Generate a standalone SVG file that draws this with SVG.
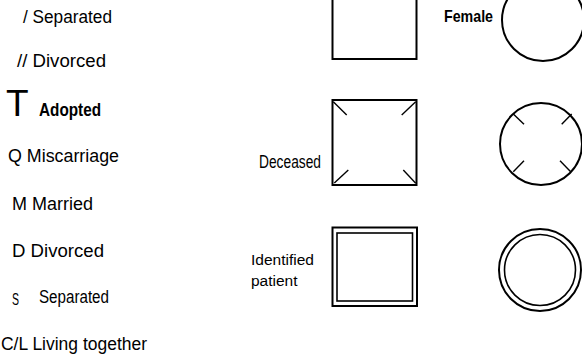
<svg xmlns="http://www.w3.org/2000/svg" width="582" height="360" viewBox="0 0 582 360">
<style>
text { font-family: "Liberation Sans", Arial, sans-serif; fill: #000; }
.lbl { font-size: 17.5px; }
.nar { font-size: 17.5px; }
.shape { fill: none; stroke: #000; stroke-width: 2; }
.tick { stroke: #000; stroke-width: 1.4; fill: none; }
</style>
<rect width="582" height="360" fill="#fff"/>
<g id="legend">
  <text class="lbl" x="23" y="23" textLength="89" lengthAdjust="spacingAndGlyphs">/ Separated</text>
  <text class="lbl" x="17" y="67" textLength="89" lengthAdjust="spacingAndGlyphs">// Divorced</text>
  <text x="6" y="116" style="font-size:37px">T</text>
  <text x="39" y="116" style="font-size:17.5px;font-weight:bold" textLength="62" lengthAdjust="spacingAndGlyphs">Adopted</text>
  <text class="lbl" x="8" y="162" textLength="111" lengthAdjust="spacingAndGlyphs">Q Miscarriage</text>
  <text class="lbl" x="12" y="210" textLength="81" lengthAdjust="spacingAndGlyphs">M Married</text>
  <text class="lbl" x="12" y="257" textLength="92" lengthAdjust="spacingAndGlyphs">D Divorced</text>
  <text x="12" y="305" style="font-size:16px" textLength="7" lengthAdjust="spacingAndGlyphs">S</text>
  <text class="nar" x="39" y="303" textLength="70" lengthAdjust="spacingAndGlyphs">Separated</text>
  <text class="lbl" x="1" y="350" textLength="146" lengthAdjust="spacingAndGlyphs">C/L Living together</text>
</g>
<g id="male">
  <rect class="shape" x="332.5" y="-26" width="84" height="85"/>
</g>
<g id="female">
  <text x="444" y="22" style="font-size:17px;font-weight:bold" textLength="49" lengthAdjust="spacingAndGlyphs">Female</text>
  <circle class="shape" cx="543" cy="20" r="41"/>
</g>
<g id="deceased-male">
  <text class="nar" x="259" y="168" textLength="62" lengthAdjust="spacingAndGlyphs">Deceased</text>
  <rect class="shape" x="332.5" y="100" width="84" height="85"/>
  <line class="tick" x1="333.3" y1="101.7" x2="346.7" y2="115"/>
  <line class="tick" x1="415.7" y1="101.7" x2="401.7" y2="115"/>
  <line class="tick" x1="334.3" y1="183" x2="348.3" y2="170"/>
  <line class="tick" x1="403.3" y1="170" x2="415.7" y2="183.3"/>
</g>
<g id="deceased-female">
  <circle class="shape" cx="541" cy="144" r="41"/>
  <line class="tick" x1="513.3" y1="114" x2="524" y2="124.3"/>
  <line class="tick" x1="571.7" y1="114" x2="561.7" y2="124.3"/>
  <line class="tick" x1="513.3" y1="171.7" x2="524" y2="160.7"/>
  <line class="tick" x1="560" y1="160.7" x2="570.7" y2="171.7"/>
</g>
<g id="patient-male">
  <text x="251" y="265" style="font-size:15.5px">Identified</text>
  <text x="251" y="286" style="font-size:15.5px">patient</text>
  <rect class="shape" x="332.5" y="227.5" width="84.5" height="78.5"/>
  <rect class="shape" x="337" y="233" width="75.5" height="68" style="stroke-width:1.6"/>
</g>
<g id="patient-female">
  <circle class="shape" cx="540" cy="270" r="41"/>
  <circle class="shape" cx="540" cy="270" r="35.5" style="stroke-width:1.6"/>
</g>
<g id="connectors"></g>
</svg>
